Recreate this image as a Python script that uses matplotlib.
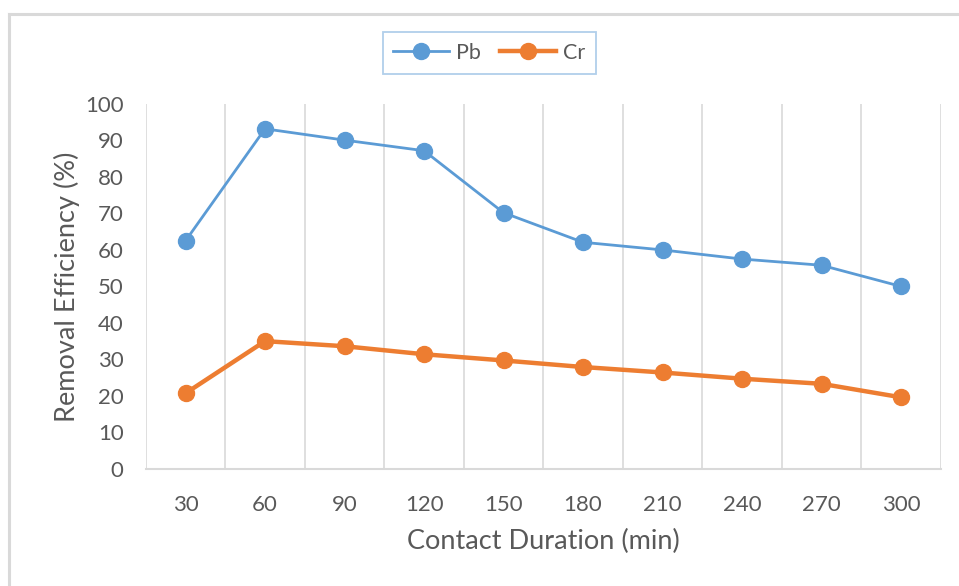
import matplotlib
matplotlib.use('Agg')
import matplotlib.pyplot as plt
from matplotlib.lines import Line2D
import numpy as np

# data
durations = ['30', '60', '90', '120', '150', '180', '210', '240', '270', '300']
pb = [62.5, 93.2, 90.1, 87.2, 70.2, 62.1, 60.0, 57.5, 55.8, 50.0]
cr = [20.7, 35.0, 33.6, 31.4, 29.7, 27.9, 26.4, 24.7, 23.3, 19.6]
yticks = [0, 10, 20, 30, 40, 50, 60, 70, 80, 90, 100]

blue = '#5B9BD5'
orange = '#ED7D31'
text_col = '#595959'
grid_col = '#D9D9D9'

plt.rcParams['font.family'] = ['Lato', 'DejaVu Sans']

fig = plt.figure(figsize=(9.59, 5.86), dpi=100)
ax = fig.add_axes([0.152, 0.200, 0.829, 0.6225])

x = np.arange(len(durations))
ax.plot(x, pb, color=blue, lw=2.0, marker='o', ms=11.5, label='Pb', zorder=3)
ax.plot(x, cr, color=orange, lw=3.2, marker='o', ms=11.5, label='Cr', zorder=3)

ax.set_xlim(-0.5, len(durations) - 0.5)
ax.set_ylim(0, 100)
ax.set_yticks(yticks)
ax.set_xticks(x)
ax.set_xticklabels(durations)

# vertical gridlines at category boundaries
for b in np.arange(-0.5, len(durations), 1.0):
    ax.axvline(b, color=grid_col, lw=1.2, zorder=1)

for s in ['top', 'right', 'left']:
    ax.spines[s].set_visible(False)
ax.spines['bottom'].set_color(grid_col)
ax.spines['bottom'].set_linewidth(1.5)

ax.tick_params(axis='both', length=0, labelsize=16, colors=text_col)
ax.tick_params(axis='x', pad=19)
ax.tick_params(axis='y', pad=16)

ax.set_xlabel('Contact Duration (min)', fontsize=19.5, color=text_col, labelpad=10)
ax.set_ylabel('Removal Efficiency (%)', fontsize=19.5, color=text_col, labelpad=3.5)

handles = [
    Line2D([], [], color=blue, lw=2.0, marker='o', ms=11.5),
    Line2D([], [], color=orange, lw=3.2, marker='o', ms=11.5),
]
leg = fig.legend(handles, ['Pb', 'Cr'], loc='center', bbox_to_anchor=(0.510, 0.910),
                 ncol=2, fontsize=15.5, frameon=True, fancybox=False,
                 handlelength=2.6, handletextpad=0.3, columnspacing=0.9,
                 borderpad=0.5, labelcolor=text_col)
leg.get_frame().set_edgecolor('#9DC3E6')
leg.get_frame().set_linewidth(1.3)

# outer chart border (left and top only visible)
fig.add_artist(Line2D([9 / 959, 9 / 959], [0, 1 - 14 / 586], transform=fig.transFigure,
                      color='#D9D9D9', lw=2.2))
fig.add_artist(Line2D([9 / 959, 1], [1 - 14 / 586, 1 - 14 / 586], transform=fig.transFigure,
                      color='#D9D9D9', lw=2.2))

fig.savefig('out.png', dpi=100)
